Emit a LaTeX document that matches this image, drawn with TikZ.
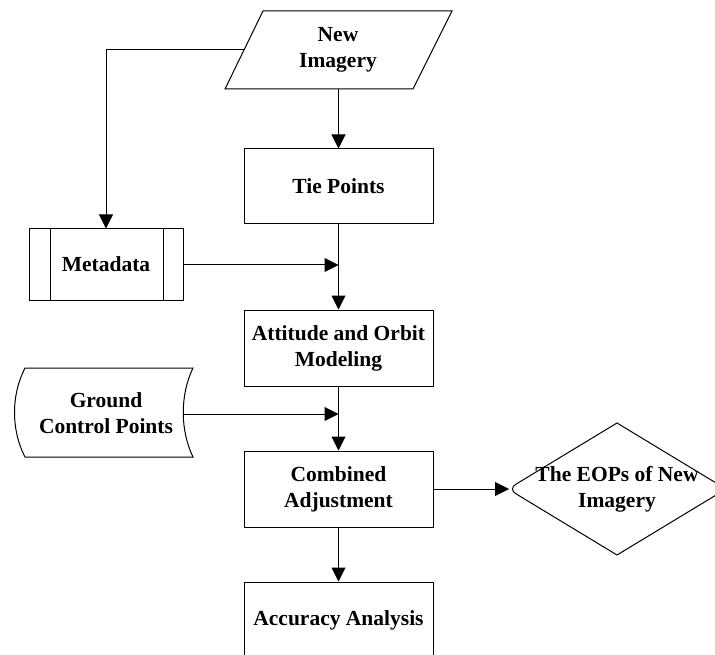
\documentclass[tikz,border=0pt]{standalone}
\usepackage{fontspec}
\setmainfont{Liberation Serif}
\usetikzlibrary{arrows.meta}
\newcommand\lbl{\fontsize{21.5}{26}\selectfont\bfseries}
\begin{document}
\begin{tikzpicture}[x=1pt,y=-1pt,line width=1pt,
  box/.style={draw,minimum width=189pt,minimum height=75pt,align=center,font=\lbl,inner sep=0pt},
  txt/.style={align=center,font=\lbl,inner sep=0pt},
  arr/.style={-{Triangle[length=14pt,width=14pt]}}]
\useasboundingbox (0,0) rectangle (715,655);
% shapes
\draw (263,11) -- (452,11) -- (413,89) -- (225,89) -- cycle;
\node[txt] (new) at (338,50) {New\\Imagery};
\coordinate (pb) at (338.5,89);
\coordinate (pl) at (244,50);
\coordinate (turn) at (106,50);

\node[box] (tie) at (338.5,186.5) {Tie Points};
\node[box,minimum height=76pt] (att) at (338.5,348) {Attitude and Orbit\\Modeling};
\node[box,minimum height=76pt] (comb) at (338.5,489) {Combined\\Adjustment};
\node[box,minimum height=76pt] (acc) at (338.5,620) {Accuracy Analysis};

\node[draw,minimum width=154pt,minimum height=71pt,txt] (meta) at (106,264.5) {Metadata};
\draw (50,229) -- (50,300) (163,229) -- (163,300);

\draw (25,368) -- (193,368) .. controls (180,395) and (180,430) .. (193,457) -- (25,457) .. controls (11,430) and (11,395) .. (25,368) -- cycle;
\node[txt] (gcp) at (106,413) {Ground\\Control Points};

\draw (617,423) [rounded corners=9pt] -- (508,489) [sharp corners] -- (617,555) -- (726,489) -- cycle;
\node[txt] (eop) at (617,489) {The EOPs of New\\Imagery};
\coordinate (dl) at (509,489);

\coordinate (m1) at (338.5,265);
\coordinate (g1) at (338.5,414);
\coordinate (gr) at (183,414);

% connectors
\draw[arr] (pb) -- (tie.north);
\draw[arr] (pl) -- (turn) -- (meta.north);
\draw[arr] (tie.south) -- (att.north);
\draw[arr] (meta.east |- m1) -- (m1);
\draw[arr] (att.south) -- (comb.north);
\draw[arr] (gr) -- (g1);
\draw[arr] (comb.south) -- (acc.north);
\draw[arr] (comb.east) -- (dl);
\end{tikzpicture}
\end{document}
